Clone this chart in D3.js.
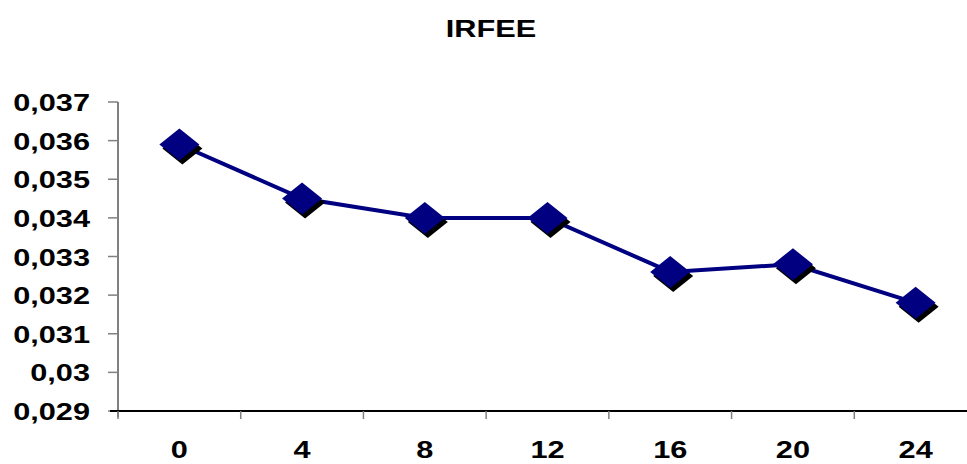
<!DOCTYPE html>
<html>
<head>
<meta charset="utf-8">
<script src="https://cdn.jsdelivr.net/npm/d3@7"></script>
<style>
  html, body { margin: 0; padding: 0; background: #fff; }
  svg { display: block; }
  text { font-family: "Liberation Sans", Arial, sans-serif; font-weight: bold; fill: #000; }
</style>
</head>
<body>
<svg id="chart" width="967" height="464"></svg>
<script>
// Series: IRFEE by horizon
const categories = ["0", "4", "8", "12", "16", "20", "24"];
const values = [0.0359, 0.0345, 0.0340, 0.0340, 0.0326, 0.0328, 0.0318];
const yTicks = [0.029, 0.030, 0.031, 0.032, 0.033, 0.034, 0.035, 0.036, 0.037];
const yTickLabels = ["0,029", "0,03", "0,031", "0,032", "0,033", "0,034", "0,035", "0,036", "0,037"];
const title = "IRFEE";

const svg = d3.select("#chart");
const W = 967, H = 464;
const plot = { left: 118, right: 977, top: 102, bottom: 411 };
const stretch = 1.28; // wide lettering

const x = d3.scaleBand().domain(categories).range([plot.left, plot.right]).paddingInner(0).paddingOuter(0);
const y = d3.scaleLinear().domain([0.029, 0.037]).range([plot.bottom, plot.top]);

// Title
svg.append("text")
  .attr("transform", `translate(491,37) scale(${stretch},1)`)
  .attr("text-anchor", "middle")
  .style("font-size", "24px")
  .text(title);

// Y axis
const yAxis = svg.append("g").attr("transform", `translate(${plot.left},0)`);
yAxis.append("line")
  .attr("x1", 0).attr("x2", 0).attr("y1", plot.top).attr("y2", plot.bottom + 6)
  .attr("stroke", "#808080").attr("stroke-width", 2);
yAxis.selectAll("line.tick").data(yTicks).enter().append("line")
  .attr("class", "tick")
  .attr("x1", -10).attr("x2", 0)
  .attr("y1", d => y(d)).attr("y2", d => y(d))
  .attr("stroke", "#808080").attr("stroke-width", 1.5);
yAxis.selectAll("text").data(yTicks).enter().append("text")
  .attr("transform", d => `translate(-28,${y(d) + 9}) scale(${stretch},1)`)
  .attr("text-anchor", "end")
  .style("font-size", "24px")
  .text((d, i) => yTickLabels[i]);

// X axis
const xAxis = svg.append("g");
xAxis.append("line")
  .attr("x1", plot.left - 8).attr("x2", W).attr("y1", plot.bottom).attr("y2", plot.bottom)
  .attr("stroke", "#000").attr("stroke-width", 2);
const bounds = categories.map(c => x(c)).concat([x(categories[categories.length - 1]) + x.bandwidth()]);
xAxis.selectAll("line.tick").data(bounds).enter().append("line")
  .attr("class", "tick")
  .attr("x1", d => d).attr("x2", d => d)
  .attr("y1", plot.bottom).attr("y2", plot.bottom + 8)
  .attr("stroke", "#808080").attr("stroke-width", 1.5);
xAxis.selectAll("text").data(categories).enter().append("text")
  .attr("transform", d => `translate(${x(d) + x.bandwidth() / 2},458) scale(${stretch},1)`)
  .attr("text-anchor", "middle")
  .style("font-size", "24px")
  .text(d => d);

// Line
const line = d3.line()
  .x((d, i) => x(categories[i]) + x.bandwidth() / 2)
  .y(d => y(d));
svg.append("path")
  .datum(values)
  .attr("d", line)
  .attr("fill", "none")
  .attr("stroke", "#000080")
  .attr("stroke-width", 4);

// Diamond markers with drop shadow
const hw = 20, hh = 16;
const diamond = `M0,${-hh}L${hw},0L0,${hh}L${-hw},0Z`;
const markers = svg.append("g");
values.forEach((v, i) => {
  const cx = x(categories[i]) + x.bandwidth() / 2, cy = y(v);
  markers.append("path").attr("d", diamond)
    .attr("transform", `translate(${cx + 3},${cy + 4})`)
    .attr("fill", "#000");
  markers.append("path").attr("d", diamond)
    .attr("transform", `translate(${cx},${cy})`)
    .attr("fill", "#000080");
});
</script>
</body>
</html>
